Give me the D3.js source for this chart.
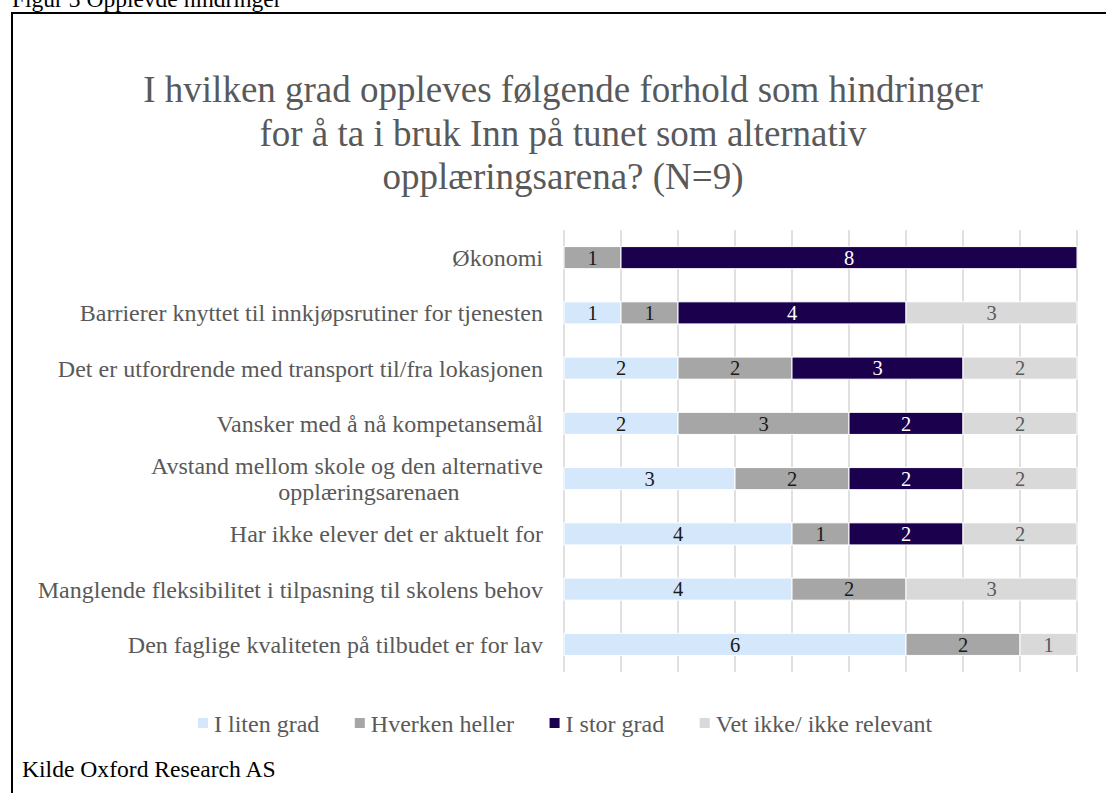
<!DOCTYPE html>
<html>
<head>
<meta charset="utf-8">
<script src="https://cdn.jsdelivr.net/npm/d3@7"></script>
<style>
  html, body { margin: 0; padding: 0; background: #fff; overflow: hidden; }
  svg { display: block; }
  text { font-family: "Liberation Serif", "Times New Roman", serif; }
</style>
</head>
<body>
<svg id="chart" width="1106" height="793"></svg>
<script>
// ---- Data ----
const categories = [
  "Økonomi",
  "Barrierer knyttet til innkjøpsrutiner for tjenesten",
  "Det er utfordrende med transport til/fra lokasjonen",
  "Vansker med å nå kompetansemål",
  "Avstand mellom skole og den alternative|opplæringsarenaen",
  "Har ikke elever det er aktuelt for",
  "Manglende fleksibilitet i tilpasning til skolens behov",
  "Den faglige kvaliteten på tilbudet er for lav"
];
const seriesNames = ["I liten grad", "Hverken heller", "I stor grad", "Vet ikke/ ikke relevant"];
const litenGrad   = [0, 1, 2, 2, 3, 4, 4, 6];
const hverken     = [1, 1, 2, 3, 2, 1, 2, 2];
const storGrad    = [8, 4, 3, 2, 2, 2, 0, 0];
const vetIkke     = [0, 3, 2, 2, 2, 2, 3, 1];
const xTicks      = [0, 1, 2, 3, 4, 5, 6, 7, 8, 9];
const titleLines  = [
  "I hvilken grad oppleves følgende forhold som hindringer",
  "for å ta i bruk Inn på tunet som alternativ",
  "opplæringsarena? (N=9)"
];
const figureCaption = "Figur 3 Opplevde hindringer";
const sourceText = "Kilde Oxford Research AS";

const colors = ["#d5e8fb", "#a6a6a6", "#1a004d", "#d9d9d9"];
const labelColors = ["#1a1a1a", "#1a1a1a", "#ffffff", "#595959"];

// build table
const keys = ["liten", "hverken", "stor", "vet"];
const table = categories.map((c, i) => ({
  cat: c, liten: litenGrad[i], hverken: hverken[i], stor: storGrad[i], vet: vetIkke[i]
}));

const svg = d3.select("#chart");

// caption
svg.append("text").attr("x", 12).attr("y", 7)
  .attr("font-size", 23.5).attr("fill", "#000").text(figureCaption);

// frame
svg.append("rect").attr("x", 12).attr("y", 13).attr("width", 1110).attr("height", 800)
  .attr("fill", "none").attr("stroke", "#000").attr("stroke-width", 2);

// title
const title = svg.append("text").attr("text-anchor", "middle")
  .attr("font-size", 37).attr("fill", "#595959");
titleLines.forEach((t, i) => {
  title.append("tspan").attr("x", 563).attr("y", 102 + i * 43.5).text(t);
});

// scales
const x = d3.scaleLinear().domain([0, 9]).range([564, 1077]);
const y = d3.scaleBand().domain(categories).range([230, 672])
  .paddingInner(0.6).paddingOuter(0.3);

// gridlines
svg.append("g").selectAll("line").data(xTicks).join("line")
  .attr("x1", d => x(d)).attr("x2", d => x(d))
  .attr("y1", 230).attr("y2", 672)
  .attr("stroke", "#d9d9d9").attr("stroke-width", 1.6);

// stacked bars
const stack = d3.stack().keys(keys)(table);
const g = svg.append("g");
stack.forEach((layer, si) => {
  const lg = g.append("g");
  lg.selectAll("rect").data(layer).join("rect")
    .attr("x", d => x(d[0]))
    .attr("y", d => y(d.data.cat))
    .attr("width", d => Math.max(0, x(d[1]) - x(d[0])))
    .attr("height", y.bandwidth())
    .attr("fill", colors[si])
    .attr("stroke", d => (d[1] - d[0]) > 0 ? "#fff" : "none")
    .attr("stroke-width", 1);
  lg.selectAll("text").data(layer.filter(d => d[1] - d[0] > 0)).join("text")
    .attr("x", d => (x(d[0]) + x(d[1])) / 2)
    .attr("y", d => y(d.data.cat) + y.bandwidth() / 2)
    .attr("dy", "0.35em")
    .attr("text-anchor", "middle")
    .attr("font-size", 20.5)
    .attr("fill", labelColors[si])
    .text(d => d[1] - d[0]);
});

// category labels
const yl = svg.append("g");
categories.forEach(c => {
  const cy = y(c) + y.bandwidth() / 2;
  const parts = c.split("|");
  if (parts.length === 1) {
    yl.append("text").attr("x", 543).attr("y", cy).attr("dy", "0.35em")
      .attr("text-anchor", "end").attr("font-size", 24).attr("fill", "#595959").text(c);
  } else {
    // first line right-aligned; following lines centred a little right of the first line's centre
    const first = yl.append("text").attr("x", 543).attr("y", cy - 12.75).attr("dy", "0.35em")
      .attr("text-anchor", "end").attr("font-size", 24).attr("fill", "#595959").text(parts[0]);
    const w = first.node().getComputedTextLength();
    const cx = 543 - w / 2 + 22;
    parts.slice(1).forEach((p, i) => {
      yl.append("text").attr("x", cx).attr("y", cy + 12.75 + i * 25.5)
        .attr("dy", "0.35em").attr("text-anchor", "middle")
        .attr("font-size", 24).attr("fill", "#595959").text(p);
    });
  }
});

// legend
const leg = svg.append("g");
let lx = 198;
seriesNames.forEach((n, i) => {
  leg.append("rect").attr("x", lx).attr("y", 718).attr("width", 10).attr("height", 10)
    .attr("fill", colors[i]);
  const t = leg.append("text").attr("x", lx + 16).attr("y", 732)
    .attr("font-size", 24).attr("fill", "#595959").text(n);
  lx += 16 + t.node().getComputedTextLength() + 35.5;
});

// source
svg.append("text").attr("x", 22).attr("y", 777)
  .attr("font-size", 23.6).attr("fill", "#000").text(sourceText);
</script>
</body>
</html>
